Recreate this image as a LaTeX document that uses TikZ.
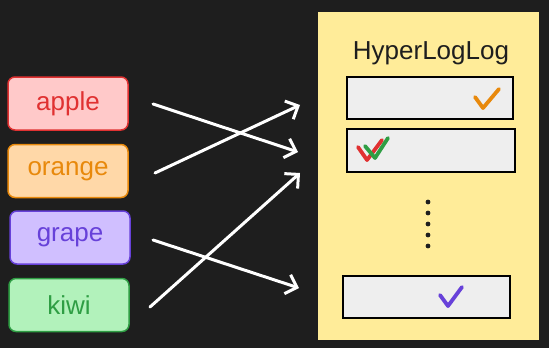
\documentclass[tikz,border=0pt]{standalone}
\usepackage{fontspec}
\setmainfont{Liberation Sans}
\usetikzlibrary{arrows.meta}
\definecolor{bgc}{HTML}{1E1E1E}
\definecolor{applef}{HTML}{FFC9C9}\definecolor{applec}{HTML}{E03131}
\definecolor{orangef}{HTML}{FFD8A8}\definecolor{orangec}{HTML}{E8890C}
\definecolor{grapef}{HTML}{D0BFFF}\definecolor{grapec}{HTML}{6741D9}
\definecolor{kiwif}{HTML}{B2F2BB}\definecolor{kiwic}{HTML}{2F9E44}
\definecolor{hllf}{HTML}{FFEC99}\definecolor{regf}{HTML}{EEEEEE}
\definecolor{inkc}{HTML}{1E1E1E}
\begin{document}
\begin{tikzpicture}[x=1pt,y=-1pt,
  fruit/.style={draw=#1c,fill=#1f,text=#1c,line width=1.5pt,rounded corners=7pt,
    minimum width=120pt,minimum height=53pt,inner sep=0pt,font=\fontsize{26}{30}\selectfont},
  reg/.style={draw=black,fill=regf,line width=1.3pt,minimum width=166pt,minimum height=42pt,inner sep=0pt},
  tick/.style={line width=3.8pt,line cap=round,line join=round},
  flow/.style={draw=white,line width=3pt,line cap=round,-{Straight Barb[length=10pt,width=20pt,line width=3pt]}}]
\fill[bgc] (0,0) rectangle (549,348);
\useasboundingbox (0,0) rectangle (549,348);
% fruits
\node[fruit=apple] (apple) at (68,103.5) {\raisebox{-1pt}{apple}};
\node[fruit=orange] (orange) at (68,171) {\raisebox{-1pt}{orange}};
\node[fruit=grape] (grape) at (70,237.5) {\raisebox{-1pt}{grape}};
\node[fruit=kiwi] (kiwi) at (69,305) {\raisebox{-1pt}{kiwi}};
% HLL
\node[draw=inkc,fill=hllf,line width=1pt,minimum width=222pt,minimum height=329pt,inner sep=0pt] (hll) at (428,175.5) {};
\node[font=\fontsize{26}{30}\selectfont,text=inkc] (title) at (431,53) {HyperLogLog};
\node[reg] (reg1) at (430,98) {};
\node[reg,minimum width=168pt,minimum height=43pt] (reg2) at (431,150.5) {};
\node[reg,minimum width=167pt] (reg3) at (426.5,297) {};
% ticks
\draw[tick,draw=orangec] (475,97) -- (483,108) -- (499,89);
\draw[tick,draw=applec] (358,147) -- (367,160) -- (382,140);
\draw[tick,draw=kiwic] (365,146) -- (375,158) -- (388,138);
\draw[tick,draw=grapec] (440,295) -- (448,306) -- (462,287);
% dots
\foreach \y [count=\i] in {202,213,224,235,246} \fill[inkc] (428,\y) circle (2.4pt);
% arrows
\coordinate (aS) at (153,104); \coordinate (aE) at (298,152);
\coordinate (oS) at (155,173); \coordinate (oE) at (300,105);
\coordinate (gS) at (153,240); \coordinate (gE) at (299,288);
\coordinate (kS) at (150,307); \coordinate (kE) at (300,173);
\draw[flow] (aS) -- (aE);
\draw[flow] (oS) -- (oE);
\draw[flow] (gS) -- (gE);
\draw[flow] (kS) -- (kE);
\end{tikzpicture}
\end{document}
